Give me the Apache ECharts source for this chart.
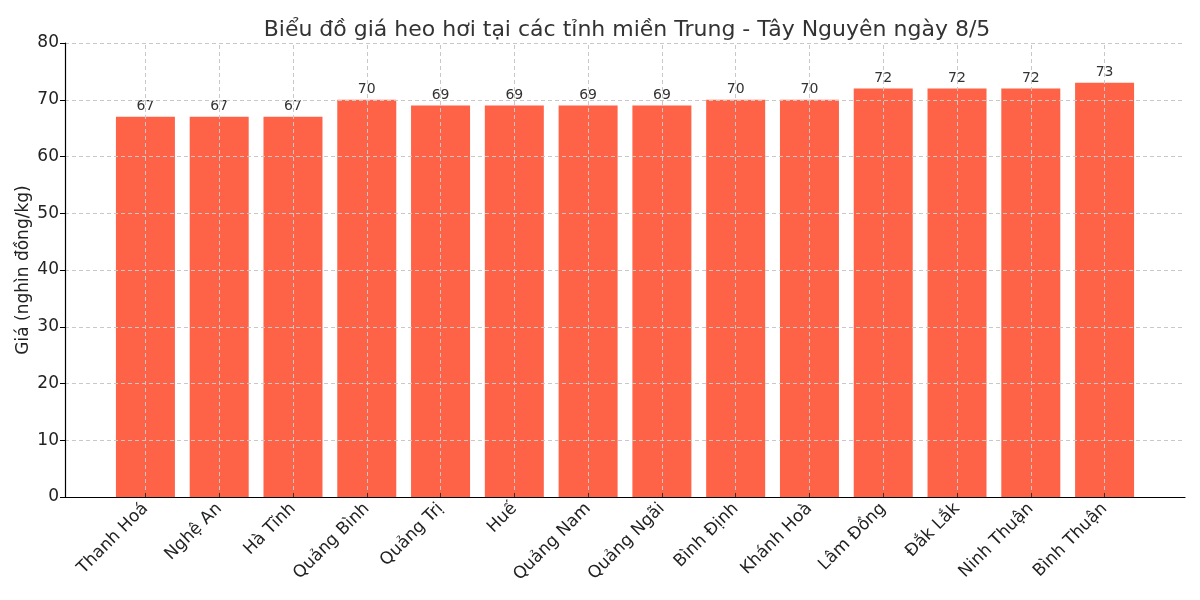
<!DOCTYPE html>
<html><head><meta charset="utf-8">
<script src="https://cdn.jsdelivr.net/npm/echarts@6/dist/echarts.min.js"></script>
<style>html,body{margin:0;padding:0;background:#fff}#c{width:1200px;height:600px}</style>
</head><body><div id="c"></div>
<script>
const categories = ["Thanh Hoá","Nghệ An","Hà Tĩnh","Quảng Bình","Quảng Trị","Huế","Quảng Nam","Quảng Ngãi","Bình Định","Khánh Hoà","Lâm Đồng","Đắk Lắk","Ninh Thuận","Bình Thuận"];
const prices = [67,67,67,70,69,69,69,69,70,70,72,72,72,73];
const yTicks = [0,10,20,30,40,50,60,70,80];

const idx = categories.map((_, i) => i);
const font = 'DejaVu Sans';
const gridStyle = {color: '#c8c8c8', type: [4, 3], width: 1};
const chart = echarts.init(document.getElementById('c'));
chart.setOption({
  animation: false,
  backgroundColor: '#fff',
  title: {
    text: 'Biểu đồ giá heo hơi tại các tỉnh miền Trung - Tây Nguyên ngày 8/5',
    left: 622, top: 14, textAlign: 'center',
    textStyle: {fontFamily: font, fontSize: 22, fontWeight: 'normal', color: '#333'}
  },
  grid: {left: 65, right: 15, top: 43, bottom: 103, containLabel: false},
  xAxis: {
    type: 'value', min: -1.09, max: 14.09, z: 5,
    axisLine: {show: true, onZero: false, lineStyle: {color: '#000', width: 1.2}},
    axisTick: {show: true, inside: true, length: 4, customValues: idx, lineStyle: {color: '#333'}},
    axisLabel: {
      customValues: idx, rotate: 45, fontFamily: font, fontSize: 17, color: '#222', margin: 9,
      formatter: v => categories[Math.round(v)] || ''
    },
    splitLine: {show: false}
  },
  yAxis: {
    type: 'value', min: 0, max: 80, interval: 10, z: 5,
    name: 'Giá (nghìn đồng/kg)', nameLocation: 'middle', nameGap: 33, nameMoveOverlap: false,
    nameTextStyle: {fontFamily: font, fontSize: 17, color: '#222'},
    axisLine: {show: true, onZero: false, lineStyle: {color: '#000', width: 1.2}},
    axisTick: {show: true, length: 5, lineStyle: {color: '#000'}},
    axisLabel: {fontFamily: font, fontSize: 17, color: '#222', margin: 6, customValues: yTicks},
    splitLine: {show: true, lineStyle: gridStyle}
  },
  series: [{
    type: 'bar',
    data: prices.map((v, i) => [i, v]),
    barWidth: 59,
    itemStyle: {color: '#FF6347'},
    z: 1,
    label: {show: true, position: 'top', distance: 3, fontFamily: font, fontSize: 14, color: '#333'},
    markLine: {
      silent: true, symbol: 'none', z: 4,
      label: {show: false},
      lineStyle: gridStyle,
      data: idx.map(i => ({xAxis: i}))
    }
  }]
});
</script></body></html>
